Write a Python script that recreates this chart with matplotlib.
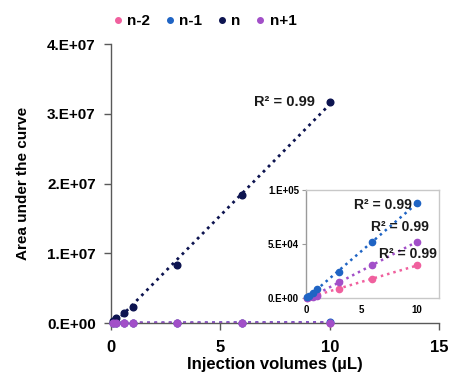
import matplotlib
matplotlib.use("Agg")
import matplotlib.pyplot as plt
import numpy as np
from matplotlib.lines import Line2D

plt.rcParams['font.family'] = ['Liberation Sans', 'DejaVu Sans']
plt.rcParams['font.weight'] = 'bold'

volumes = [0.1, 0.25, 0.6, 1, 3, 6, 10]
series_names = ["n-2", "n-1", "n", "n+1"]
area_n2 = [400, 1000, 1800, 2800, 8000, 17500, 30500]
area_n1 = [1000, 2200, 4500, 8000, 24000, 52000, 88000]
area_n = [300000, 700000, 1400000, 2300000, 8300000, 18400000, 31700000]
area_np1 = [300, 700, 1200, 1800, 15000, 30500, 52000]
colors = ["#f0609e", "#1f64c4", "#0d1450", "#a24fc8"]
r2_labels = ["R² = 0.99", "R² = 0.99", "R² = 0.99", "R² = 0.99"]

main_yticks = [0, 1e7, 2e7, 3e7, 4e7]
main_yticklabels = ["0.E+00", "1.E+07", "2.E+07", "3.E+07", "4.E+07"]
main_xticks = [0, 5, 10, 15]
inset_yticks = [0, 5e4, 1e5]
inset_yticklabels = ["0.E+00", "5.E+04", "1.E+05"]
inset_xticks = [0, 5, 10]

all_series = [area_n2, area_n1, area_n, area_np1]

fig = plt.figure(figsize=(4.52, 3.73), dpi=100)
ax = fig.add_axes([0.2456, 0.134, 0.7257, 0.748])

spine_col = "#595959"
x = np.array(volumes)
for vals, c in zip(all_series, colors):
    y = np.array(vals, dtype=float)
    m, b = np.polyfit(x, y, 1)
    xx = np.array([0, x.max()])
    ax.plot(xx, m * xx + b, linestyle=(0, (1, 1.6)), color=c, lw=2.0, zorder=2)
    ax.plot(x, y, 'o', color=c, ms=4.8, zorder=3, clip_on=False)

ax.set_xlim(0, 15)
ax.set_ylim(0, 4e7)
ax.set_xticks(main_xticks)
ax.set_xticklabels([str(t) for t in main_xticks], fontsize=12, fontweight='bold')
ax.set_yticks(main_yticks)
ax.set_yticklabels(main_yticklabels, fontsize=11, fontweight='bold')
for s in ['top', 'right']:
    ax.spines[s].set_visible(False)
for s in ['left', 'bottom']:
    ax.spines[s].set_color(spine_col)
    ax.spines[s].set_linewidth(1.0)
ax.tick_params(direction='out', length=5, color=spine_col, width=1.0, pad=6)
ax.tick_params(axis='x', pad=7)
ax.set_xlabel("Injection volumes (µL)", fontsize=12, fontweight='bold', labelpad=2)
ax.set_ylabel("Area under the curve", fontsize=11, fontweight='bold', labelpad=12)

ax.text(volumes[-1] - 0.7, area_n[-1], r2_labels[2], ha='right', va='center',
        fontsize=10.5, fontweight='bold', color='#1a1a1a')

handles = [Line2D([], [], marker='o', ls='none', color=c, ms=4) for c in colors]
fig.legend(handles, series_names, loc='center', bbox_to_anchor=(0.45, 0.944), ncol=4,
           frameon=False, prop={'size': 11, 'weight': 'bold'}, handletextpad=0.1,
           columnspacing=0.8, handlelength=1.0)

# inset
ins = fig.add_axes([0.677, 0.201, 0.294, 0.29])
for vals, c in zip([area_n2, area_np1, area_n1], [colors[0], colors[3], colors[1]]):
    y = np.array(vals, dtype=float)
    m, b = np.polyfit(x, y, 1)
    xx = np.array([0, x.max()])
    ins.plot(xx, m * xx + b, linestyle=(0, (1, 1.6)), color=c, lw=1.8, zorder=2)
    ins.plot(x, y, 'o', color=c, ms=4.5, zorder=3, clip_on=False)
ins.set_xlim(0, 12)
ins.set_ylim(0, 1e5)
ins.set_xticks(inset_xticks)
ins.set_xticklabels([str(t) for t in inset_xticks], fontsize=7, fontweight='bold')
ins.set_yticks(inset_yticks)
ins.set_yticklabels(inset_yticklabels, fontsize=7, fontweight='bold')
for s in ins.spines.values():
    s.set_color("#c8c8c8")
    s.set_linewidth(1.0)
ins.spines['left'].set_color("#9a9a9a")
ins.tick_params(axis='y', direction='out', length=3, color="#9a9a9a", pad=2)
ins.tick_params(axis='x', length=0, pad=5)

ins.text(volumes[-1] - 0.4, area_n1[-1] - 2000, r2_labels[1], ha='right', va='center',
         fontsize=10, fontweight='bold', color='#1a1a1a')
ins.text(volumes[-1] + 1.1, area_np1[-1] + 14000, r2_labels[3], ha='right', va='center',
         fontsize=10, fontweight='bold', color='#1a1a1a')
ins.text(volumes[-1] + 1.8, area_n2[-1] + 10500, r2_labels[0], ha='right', va='center',
         fontsize=10, fontweight='bold', color='#1a1a1a')

fig.savefig("out.png", dpi=100)
